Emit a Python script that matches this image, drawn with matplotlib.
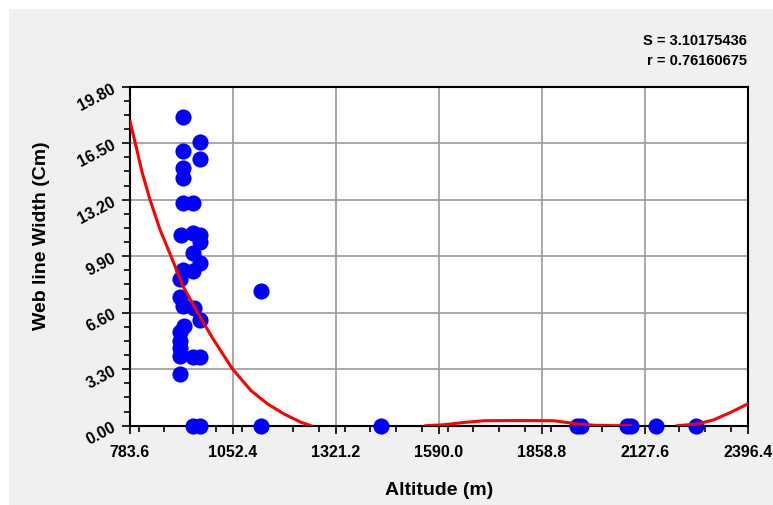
import matplotlib.pyplot as plt
from matplotlib.patches import Rectangle
from matplotlib.ticker import MultipleLocator, FixedLocator
import numpy as np

plt.rcParams['font.family'] = ['Liberation Sans', 'DejaVu Sans']

# observed points (altitude, web line width)
alt = [921, 965.5, 922, 965.5, 922.7, 922.7, 921, 949, 916.7, 947, 967, 967,
       947, 967, 948, 922.7, 915, 915, 921, 950, 965.5, 923.7, 915, 915, 915,
       915, 947, 967, 915, 947, 967, 1125.5, 1125.5,
       1438.7, 1950, 1962.4, 2082.4, 2091, 2158, 2260.7]
width = [18.04, 16.58, 16.03, 15.55, 15.06, 14.47, 12.99, 12.99, 11.12, 11.27,
         11.12, 10.73, 10.09, 9.52, 9.01, 9.11, 8.57, 7.51, 7.02, 6.87, 6.20,
         5.82, 5.46, 4.97, 4.53, 4.06, 4.02, 4.02, 3.04, 0, 0, 7.86, 0,
         0, 0, 0, 0, 0, 0, 0]

# fitted curve (nan where it drops below zero)
fit_x = [783.6, 797.4, 814.9, 835.8, 862, 890.6, 921, 960.3, 999.4, 1051.6,
         1099.4, 1143, 1186.3, 1229.9, 1256, 1260,
         1556, 1600, 1660.5, 1708, 1800, 1891, 1952, 2000, 2050, 2091, 2095,
         2213, 2265, 2308.5, 2352, 2396.4]
fit_y = [17.79, 16.5, 14.83, 13.2, 11.45, 9.9, 8.19, 6.6, 5.11, 3.3,
         2.05, 1.27, 0.68, 0.2, 0.0, np.nan,
         0.0, 0.05, 0.2, 0.29, 0.3, 0.29, 0.1, 0.02, 0.0, 0.0, np.nan,
         0.0, 0.1, 0.35, 0.78, 1.27]

x_ticks = [783.6, 1052.4, 1321.2, 1590.0, 1858.8, 2127.6, 2396.4]
y_ticks = [0.0, 3.3, 6.6, 9.9, 13.2, 16.5, 19.8]

fig = plt.figure(figsize=(7.73, 5.06), dpi=100, facecolor='white')
fig.add_artist(Rectangle((9 / 773, 0), 1, 496 / 506, transform=fig.transFigure,
                         facecolor='#f0f0f0', edgecolor='none', zorder=-10))
ax = fig.add_axes([130 / 773, 79.3 / 506, 617.7 / 773, 339 / 506])
ax.set_facecolor('white')

ax.scatter(alt, width, s=135, color='#0000ff', zorder=4, clip_on=False,
           linewidths=0)
ax.plot(fit_x, fit_y, color='#ff0000', lw=2.2, zorder=5)

ax.set_xlim(x_ticks[0], x_ticks[-1])
ax.set_ylim(y_ticks[0], y_ticks[-1])
ax.xaxis.set_major_locator(FixedLocator(x_ticks))
ax.yaxis.set_major_locator(FixedLocator(y_ticks))
ax.xaxis.set_minor_locator(MultipleLocator(67.2))
ax.yaxis.set_minor_locator(MultipleLocator(0.825))
ax.set_xticklabels(['%.1f' % v for v in x_ticks], fontsize=11.5, fontweight='bold')
ax.set_yticklabels(['%.2f' % v for v in y_ticks], fontsize=11.5, fontweight='bold',
                   rotation=28, rotation_mode='anchor', ha='right', va='center')
ax.tick_params(which='major', direction='out', length=6, width=1.2, pad=5)
ax.tick_params(which='minor', direction='out', length=4, width=1.2)
ax.tick_params(axis='x', which='major', pad=7)
ax.grid(True, which='major', color='#9a9a9a', lw=1.2, zorder=0)
ax.set_axisbelow(True)
for sp in ax.spines.values():
    sp.set_linewidth(1.5)

fig.text(439 / 773, 1 - 490.7 / 506, 'Altitude (m)', fontsize=14,
         fontweight='bold', ha='center', va='center')
fig.text(41.3 / 773, 1 - 235.5 / 506, 'Web line Width (Cm)', fontsize=14,
         fontweight='bold', ha='center', va='center', rotation=90)
fig.text(747 / 773, 1 - 40.7 / 506, 'S = 3.10175436', fontsize=10.5,
         fontweight='bold', ha='right', va='center')
fig.text(747 / 773, 1 - 60.7 / 506, 'r = 0.76160675', fontsize=10.5,
         fontweight='bold', ha='right', va='center')

fig.savefig('out.png', dpi=100, facecolor='white')
